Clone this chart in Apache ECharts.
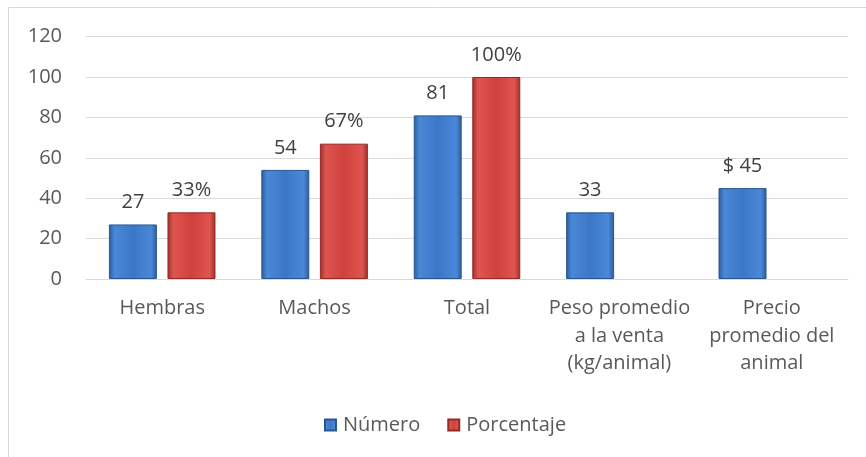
<!DOCTYPE html>
<html>
<head>
<meta charset="utf-8">
<title>Hembras y machos</title>
<script src="https://cdn.jsdelivr.net/npm/echarts@6/dist/echarts.min.js"></script>
<style>
  html, body { margin: 0; padding: 0; background: #fff; }
  #chart { width: 866px; height: 457px; }
</style>
</head>
<body>
<div id="chart"></div>
<script>
// datos
const categories = [
  'Hembras',
  'Machos',
  'Total',
  'Peso promedio\na la venta\n(kg/animal)',
  'Precio\npromedio del\nanimal'
];
const numero = [27, 54, 81, 33, 45];
const porcentaje = [33, 67, 100, null, null];
const numeroLabels = ['27', '54', '81', '33', '$ 45'];
const porcentajeLabels = ['33%', '67%', '100%', '', ''];
const yTicks = [0, 20, 40, 60, 80, 100, 120];

const FONT = '"Open Sans", Lato, sans-serif';

// relleno con aspecto biselado (como Excel)
const bevel = (edge, mid, light) => new echarts.graphic.LinearGradient(0, 0, 1, 0, [
  { offset: 0, color: edge },
  { offset: 0.12, color: light },
  { offset: 0.5, color: mid },
  { offset: 0.88, color: light },
  { offset: 1, color: edge }
]);

const chart = echarts.init(document.getElementById('chart'));

const option = {
  backgroundColor: '#fff',
  animation: false,
  graphic: [{
    type: 'rect',
    shape: { x: 8.5, y: 7.5, width: 880, height: 470 },
    style: { fill: 'none', stroke: '#d9d9d9', lineWidth: 1 },
    silent: true
  }],
  legend: {
    data: ['Número', 'Porcentaje'],
    left: 319,
    top: 410,
    icon: 'rect',
    itemWidth: 11,
    itemHeight: 11,
    itemGap: 27,
    textStyle: { fontFamily: FONT, fontSize: 20, color: '#595959', padding: [0, 0, 0, 2] }
  },
  grid: { left: 86, right: 18, top: 36.6, bottom: 178 },
  xAxis: {
    type: 'category',
    data: categories,
    axisLine: { lineStyle: { color: '#d9d9d9', width: 1 } },
    axisTick: { show: false },
    axisLabel: {
      margin: 16,
      interval: 0,
      fontFamily: FONT,
      fontSize: 20,
      lineHeight: 27.5,
      color: '#595959'
    }
  },
  yAxis: {
    type: 'value',
    min: yTicks[0],
    max: yTicks[yTicks.length - 1],
    interval: 20,
    axisLine: { show: false },
    axisTick: { show: false },
    splitLine: { lineStyle: { color: '#d9d9d9', width: 1 } },
    axisLabel: {
      margin: 24,
      fontFamily: FONT,
      fontSize: 20,
      color: '#595959'
    }
  },
  series: [
    {
      name: 'Número',
      type: 'bar',
      data: numero,
      barWidth: 48,
      barGap: '22%',
      itemStyle: {
        color: bevel('#2c5a98', '#3b77c6', '#4a89d8'),
        borderColor: '#2a5690',
        borderWidth: 1
      },
      label: {
        show: true,
        position: 'top',
        distance: 12,
        fontFamily: FONT,
        fontSize: 20,
        color: '#404040',
        formatter: p => numeroLabels[p.dataIndex]
      }
    },
    {
      name: 'Porcentaje',
      type: 'bar',
      data: porcentaje,
      barWidth: 48,
      itemStyle: {
        color: bevel('#9e2e2b', '#d0413d', '#de5550'),
        borderColor: '#922a27',
        borderWidth: 1
      },
      label: {
        show: true,
        position: 'top',
        distance: 12,
        fontFamily: FONT,
        fontSize: 20,
        color: '#404040',
        formatter: p => porcentajeLabels[p.dataIndex]
      }
    }
  ]
};

chart.setOption(option);
</script>
</body>
</html>
